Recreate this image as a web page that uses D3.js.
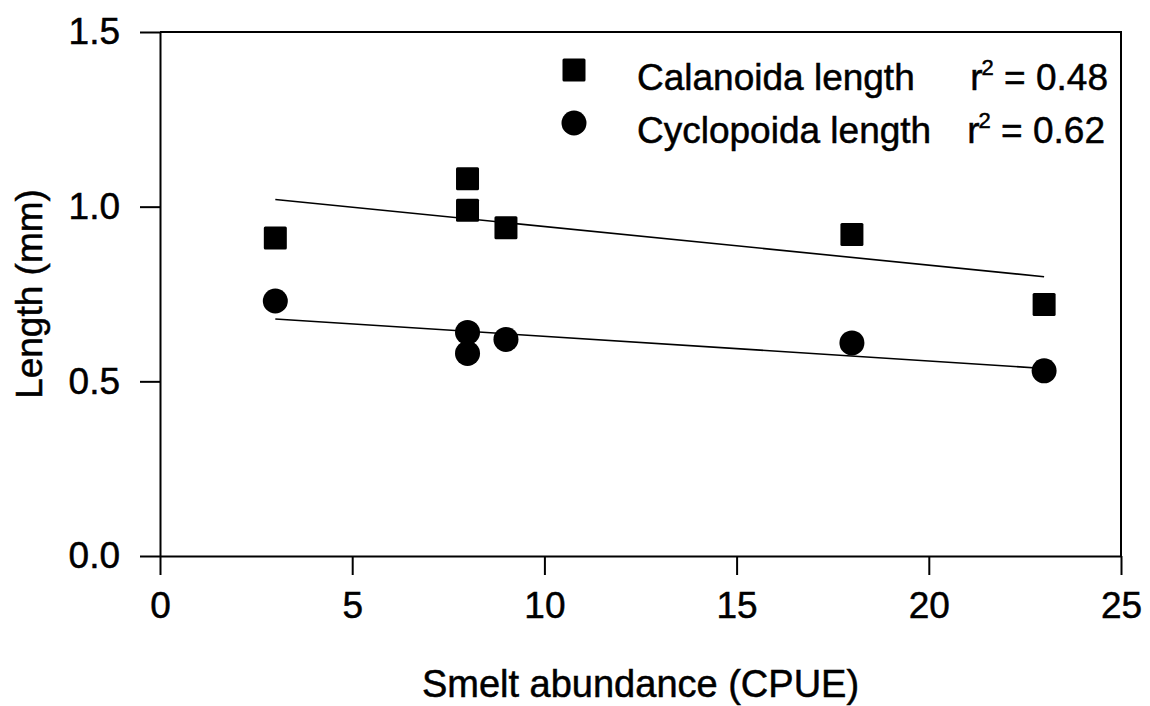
<!DOCTYPE html>
<html>
<head>
<meta charset="utf-8">
<script src="https://cdn.jsdelivr.net/npm/d3@7"></script>
<style>
  body { margin: 0; background: #fff; }
  svg { font-family: "Liberation Sans", Arial, sans-serif; }
  svg text { fill: #000; stroke: #000; stroke-width: 0.5px; }
  .axis text { font-size: 37px; }
  .axis path, .axis line { stroke: #000; stroke-width: 2px; }
</style>
</head>
<body>
<div id="chart"></div>
<script>
// smelt abundance (CPUE) at each station
const smelt = [3, 8, 8, 9, 18, 23]
const calanoida = [0.91, 1.08, 0.99, 0.94, 0.92, 0.72]
const cyclopoida = [0.73, 0.64, 0.58, 0.62, 0.61, 0.53]
const xTicks = [0, 5, 10, 15, 20, 25]
const yTicks = [0.0, 0.5, 1.0, 1.5]
const seriesNames = ["Calanoida length", "Cyclopoida length"]
const rSquared = ["0.48", "0.62"]

const width = 1150
const height = 706
const margin = {top: 32, right: 29, bottom: 150, left: 160}
const w = width - margin.left - margin.right
const h = height - margin.top - margin.bottom

const svg = d3.select("#chart")
    .append("svg")
    .attr("width", width)
    .attr("height", height)

const g = svg.append("g")
    .attr("transform", `translate(${margin.left}, ${margin.top})`)

const xScale = d3.scaleLinear().domain([0, 25]).range([0, w])
const yScale = d3.scaleLinear().domain([0, 1.5]).range([h, 0])

// frame (top and right)
g.append("path")
    .attr("d", `M0,0H${w}V${h}`)
    .attr("fill", "none")
    .attr("stroke", "#000")
    .attr("stroke-width", 2)

g.append("g")
    .attr("class", "axis x-axis")
    .attr("transform", `translate(0, ${h})`)
    .call(d3.axisBottom(xScale).tickValues(xTicks).tickSize(19).tickPadding(17).tickSizeOuter(0))

g.append("g")
    .attr("class", "axis y-axis")
    .call(d3.axisLeft(yScale).tickValues(yTicks).tickFormat(d3.format(".1f"))
        .tickSize(20).tickPadding(20).tickSizeOuter(0))

// least squares fit over the range of the data
function fit(xs, ys) {
    const mx = d3.mean(xs), my = d3.mean(ys)
    const sxy = d3.sum(xs, (x, i) => (x - mx) * (ys[i] - my))
    const sxx = d3.sum(xs, x => (x - mx) ** 2)
    const b = sxy / sxx
    const a = my - b * mx
    return d3.extent(xs).map(x => [x, a + b * x])
}

const line = d3.line()
    .x(d => xScale(d[0]))
    .y(d => yScale(d[1]))

;[calanoida, cyclopoida].forEach(ys => {
    g.append("path")
        .datum(fit(smelt, ys))
        .attr("fill", "none")
        .attr("stroke", "#000")
        .attr("stroke-width", 1.6)
        .attr("d", line)
})

const sq = 23
g.selectAll(".cal")
    .data(calanoida)
    .join("rect")
    .attr("class", "cal")
    .attr("x", (d, i) => xScale(smelt[i]) - sq / 2)
    .attr("y", d => yScale(d) - sq / 2)
    .attr("width", sq)
    .attr("height", sq)
    .attr("rx", 1.5)
    .attr("fill", "#000")

g.selectAll(".cyc")
    .data(cyclopoida)
    .join("circle")
    .attr("class", "cyc")
    .attr("cx", (d, i) => xScale(smelt[i]))
    .attr("cy", d => yScale(d))
    .attr("r", 12.5)
    .attr("fill", "#000")

// legend
const legend = svg.append("g")
seriesNames.forEach((name, i) => {
    const y = 70 + i * 53
    if (i === 0) {
        legend.append("rect")
            .attr("x", 574 - sq / 2).attr("y", y - sq / 2)
            .attr("width", sq).attr("height", sq).attr("rx", 1.5)
            .attr("fill", "#000")
    } else {
        legend.append("circle")
            .attr("cx", 574).attr("cy", y).attr("r", 12.5)
            .attr("fill", "#000")
    }
    legend.append("text")
        .attr("x", 637).attr("y", y + 20)
        .attr("font-size", 37)
        .text(name)
    const t = legend.append("text")
        .attr("x", 1108 - i * 3).attr("y", y + 20)
        .attr("font-size", 37)
        .attr("text-anchor", "end")
    t.append("tspan").text("r")
    t.append("tspan").attr("font-size", 22).attr("dx", -1).attr("dy", -15).text("2")
    t.append("tspan").attr("dy", 15).text(" = " + rSquared[i])
})

// axis titles
svg.append("text")
    .attr("x", margin.left + w / 2)
    .attr("y", 697)
    .attr("text-anchor", "middle")
    .attr("font-size", 38)
    .text("Smelt abundance (CPUE)")

svg.append("text")
    .attr("transform", `translate(42, ${294}) rotate(-90)`)
    .attr("text-anchor", "middle")
    .attr("font-size", 37)
    .text("Length (mm)")
</script>
</body>
</html>
